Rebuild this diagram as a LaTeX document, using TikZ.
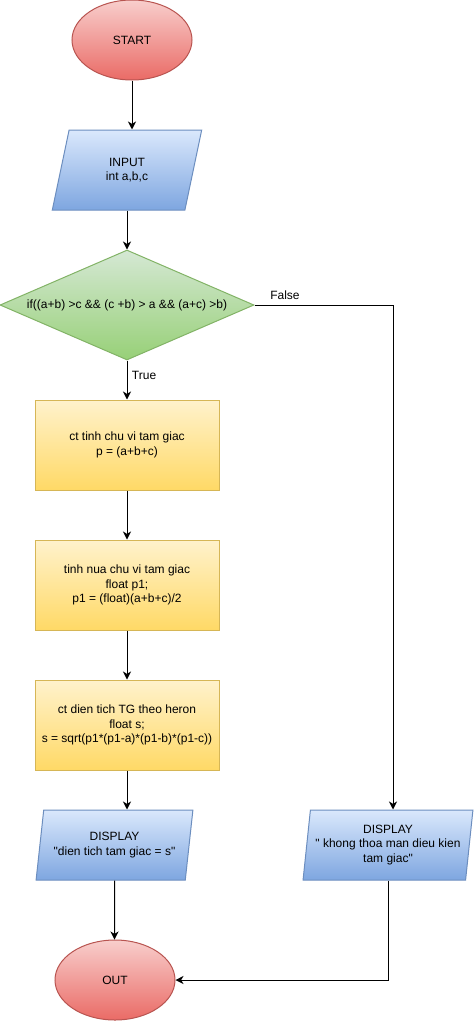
\documentclass[tikz,border=0pt]{standalone}
\usepackage{fontspec}
\setmainfont{Liberation Sans}[Ligatures=TeXOff]
\usetikzlibrary{shapes.geometric,arrows.meta}

\definecolor{termtop}{HTML}{F8CECC}
\definecolor{termbot}{HTML}{EA6B66}
\definecolor{termline}{HTML}{B85450}
\definecolor{iotop}{HTML}{DAE8FC}
\definecolor{iobot}{HTML}{7EA6E0}
\definecolor{ioline}{HTML}{6C8EBF}
\definecolor{condtop}{HTML}{D5E8D4}
\definecolor{condbot}{HTML}{97D077}
\definecolor{condline}{HTML}{82B366}
\definecolor{proctop}{HTML}{FFF2CC}
\definecolor{procbot}{HTML}{FFD966}
\definecolor{procline}{HTML}{D6B656}

\begin{document}
\begin{tikzpicture}[x=0.75pt,y=-0.75pt,
		font=\fontsize{9pt}{11pt}\selectfont,
		line width=0.75pt,
		>={Stealth[length=6pt,width=6pt,inset=1.8pt]},
		term/.style={ellipse, draw=termline, top color=termtop, bottom color=termbot,
			minimum width=90pt, minimum height=60pt, inner sep=0pt},
		io/.style={trapezium, trapezium stretches=true, draw=ioline, top color=iotop,
			bottom color=iobot, align=center, inner sep=0pt},
		proc/.style={rectangle, draw=procline, top color=proctop, bottom color=procbot,
			minimum width=138pt, minimum height=67.5pt, align=center, inner sep=0pt},
		decision/.style={diamond, draw=condline, top color=condtop, bottom color=condbot,
			minimum width=190.5pt, minimum height=82.5pt, inner sep=0pt}]
	\useasboundingbox (0,0) rectangle (474,1021);

	\node[term] (start) at (132,40) {START};
	\node[io, trapezium left angle=76, trapezium right angle=104,
		minimum width=112.5pt, minimum height=60pt] (input) at (127,170) {INPUT\\int a,b,c};
	\node[decision, label={center:if((a+b) >c \&\& (c +b) > a \&\& (a+c) >b)}] (cond) at (127,305) {};
	\node[proc] (perim) at (127,445) {ct tinh chu vi tam giac\\p = (a+b+c)};
	\node[proc] (half) at (127,585) {tinh nua chu vi tam giac\\float p1;\\p1 = (float)(a+b+c)/2};
	\node[proc] (area) at (127,725) {ct dien tich TG theo heron\\float s;\\s = sqrt(p1*(p1-a)*(p1-b)*(p1-c))};
	\node[io, trapezium left angle=75.6, trapezium right angle=104.4,
		minimum width=117.75pt, minimum height=52.5pt] (show) at (114.5,845) {DISPLAY\\"dien tich tam giac = s"};
	\node[io, trapezium left angle=80.3, trapezium right angle=99.7,
		minimum width=127.5pt, minimum height=52.5pt] (warn) at (388,845) {DISPLAY\\" khong thoa man dieu kien\\tam giac"};
	\node[term] (out) at (115,980) {OUT};
	\coordinate (fbend) at (393,305);

	\draw[->] (start) -- (start |- input.north);
	\draw[->] (input.south -| cond) -- (cond);
	\draw[->] (cond) -- node[right, pos=0.375]{True} (perim);
	\draw[->] (perim) -- (half);
	\draw[->] (half) -- (area);
	\draw[->] (area) -- (area |- show.north);
	\draw[->] (show) -- (show |- out.north);
	\draw[->] (cond) -- node[above, pos=0.22]{False} (fbend) -- (fbend |- warn.north);
	\draw[->] (warn) |- (out);
\end{tikzpicture}
\end{document}
